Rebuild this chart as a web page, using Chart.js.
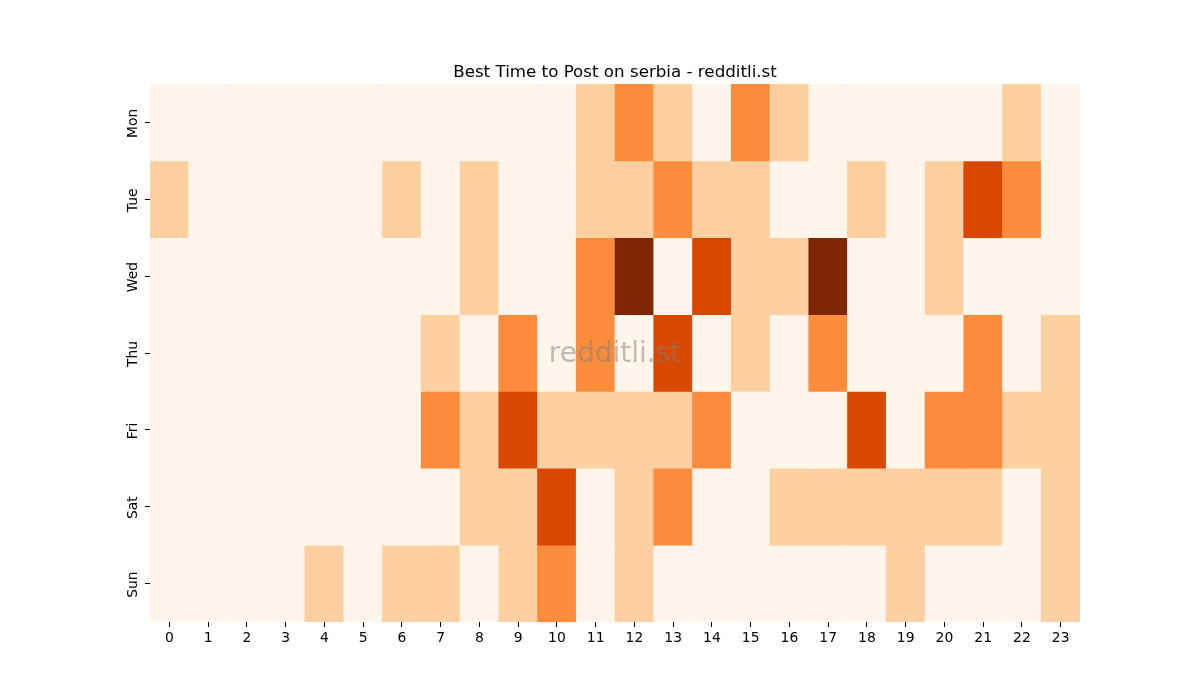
<!DOCTYPE html>
<html>
<head>
<meta charset="utf-8">
<script src="https://cdn.jsdelivr.net/npm/chart.js@4"></script>
<style>
  html, body { margin: 0; padding: 0; background: #fff; }
  #wrap { width: 1200px; height: 700px; }
</style>
</head>
<body>
<div id="wrap"><canvas id="heat" width="1200" height="700"></canvas></div>
<script>
const hours = ['0','1','2','3','4','5','6','7','8','9','10','11','12','13','14','15','16','17','18','19','20','21','22','23'];
const days = ['Mon', 'Tue', 'Wed', 'Thu', 'Fri', 'Sat', 'Sun'];

// posting activity per hour, one array per weekday
const mon = [0,0,0,0,0,0,0,0,0,0,0,1,2,1,0,2,1,0,0,0,0,0,1,0];
const tue = [1,0,0,0,0,0,1,0,1,0,0,1,1,2,1,1,0,0,1,0,1,3,2,0];
const wed = [0,0,0,0,0,0,0,0,1,0,0,2,4,0,3,1,1,4,0,0,1,0,0,0];
const thu = [0,0,0,0,0,0,0,1,0,2,0,2,0,3,0,1,0,2,0,0,0,2,0,1];
const fri = [0,0,0,0,0,0,0,2,1,3,1,1,1,1,2,0,0,0,3,0,2,2,1,1];
const sat = [0,0,0,0,0,0,0,0,1,1,3,0,1,2,0,0,1,1,1,1,1,1,0,1];
const sun = [0,0,0,0,1,0,1,1,0,1,2,0,1,0,0,0,0,0,0,1,0,0,0,1];
const rows = [mon, tue, wed, thu, fri, sat, sun];

const palette = ['#fff5eb', '#fdd0a2', '#fd8d3c', '#d94801', '#7f2704'];
const FONT = '"DejaVu Sans", sans-serif';

const datasets = rows.map((vals, d) => ({
    label: days[d],
    data: vals.map(() => [d, d + 1]),
    backgroundColor: vals.map(v => palette[v]),
    borderWidth: 0,
    borderSkipped: false,
    grouped: false,
    barPercentage: 1,
    categoryPercentage: 1
}));

const extras = {
    id: 'extras',
    afterDatasetsDraw(chart) {
        const { ctx, chartArea } = chart;
        ctx.save();
        // watermark
        ctx.font = '28px ' + FONT;
        ctx.fillStyle = 'rgba(128,128,128,0.5)';
        ctx.textAlign = 'center';
        ctx.textBaseline = 'middle';
        ctx.fillText('redditli.st', (chartArea.left + chartArea.right) / 2, (chartArea.top + chartArea.bottom) / 2 + 2);
        ctx.restore();
    },
    afterDraw(chart) {
        const { ctx, chartArea, scales } = chart;
        ctx.save();
        ctx.fillStyle = '#000';
        ctx.textAlign = 'center';
        ctx.textBaseline = 'alphabetic';
        ctx.font = '16.7px ' + FONT;
        ctx.fillText('Best Time to Post on serbia - redditli.st', (chartArea.left + chartArea.right) / 2, 77);
        // rotated weekday labels
        ctx.font = '13.9px ' + FONT;
        ctx.textBaseline = 'middle';
        days.forEach((name, i) => {
            const y = scales.y.getPixelForValue(i + 0.5);
            ctx.save();
            ctx.translate(chartArea.left - 17, y + 1);
            ctx.rotate(-Math.PI / 2);
            ctx.fillText(name, 0, 0);
            ctx.restore();
        });
        ctx.restore();
    }
};

new Chart(document.getElementById('heat'), {
    type: 'bar',
    data: { labels: hours, datasets: datasets },
    options: {
        responsive: false,
        animation: false,
        layout: { padding: { left: 0, right: 120, top: 84, bottom: 38 } },
        plugins: {
            legend: { display: false },
            tooltip: { enabled: false },
            title: { display: false }
        },
        scales: {
            x: {
                type: 'category',
                border: { display: false },
                grid: { offset: false, drawOnChartArea: false, drawTicks: true, tickLength: 5, color: '#000', lineWidth: 1 },
                ticks: { color: '#000', font: { family: FONT, size: 13.9 }, padding: 3, maxRotation: 0, minRotation: 0, autoSkip: false },
                afterFit(scale) { scale.height = 40; }
            },
            y: {
                type: 'linear',
                min: 0,
                max: 7,
                reverse: true,
                border: { display: false },
                grid: { drawOnChartArea: false, drawTicks: true, tickLength: 5, color: '#000', lineWidth: 1 },
                ticks: { color: 'rgba(0,0,0,0)', callback: (v, i) => days[i] },
                afterBuildTicks(scale) {
                    scale.ticks = days.map((_, i) => ({ value: i + 0.5 }));
                },
                afterFit(scale) { scale.width = 150; }
            }
        }
    },
    plugins: [extras]
});
</script>
</body>
</html>
